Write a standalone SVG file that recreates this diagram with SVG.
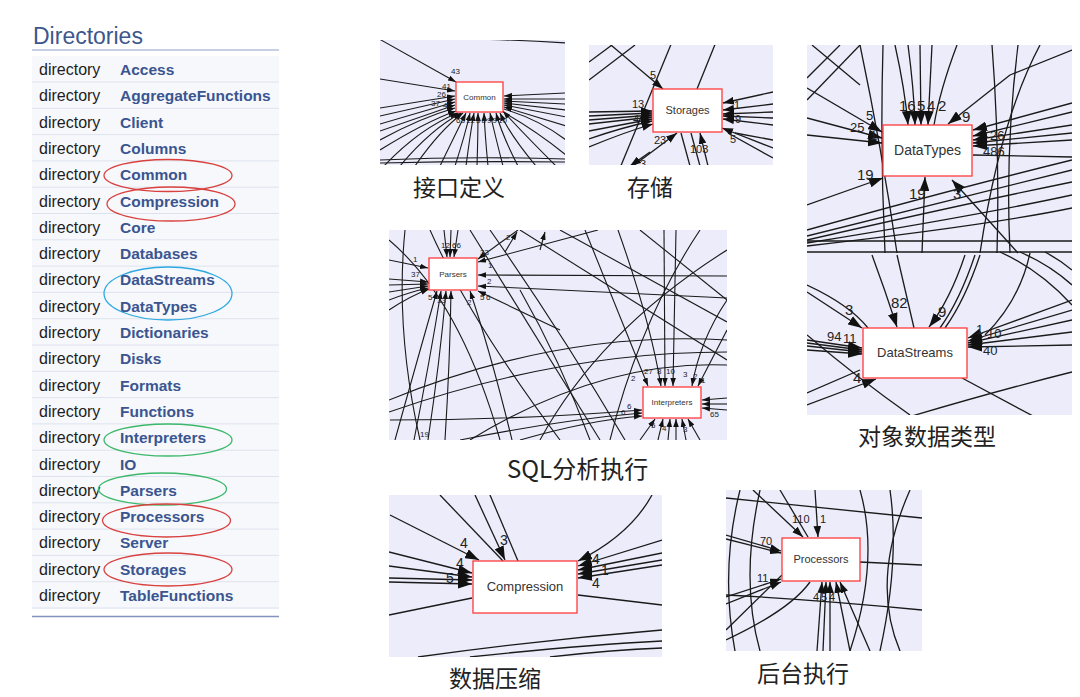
<svg xmlns="http://www.w3.org/2000/svg" width="1080" height="697" viewBox="0 0 1080 697">
<style>
.row{fill:#f7f8fb}
.sep{stroke:#dde3ee;stroke-width:1}
.dk{font-family:"Liberation Sans",Arial,sans-serif;font-size:16px;fill:#1d1d1d}
.nm{font-family:"Liberation Sans",Arial,sans-serif;font-size:15.5px;font-weight:bold;fill:#3a5590}
.ell{fill:none;stroke-width:1.3}
.bg{fill:#ececfb}
.e{fill:none;stroke:#1a1a1a;stroke-width:1.3}
.es{fill:none;stroke:#1a1a1a;stroke-width:1.1}
.nd{fill:#fff;stroke:#ff3b3b;stroke-width:1.3}
.nt{font-family:"Liberation Sans",Arial,sans-serif;fill:#333;text-anchor:middle}
.lb{font-family:"Liberation Sans",Arial,sans-serif;fill:#222}
.cap{font-family:"Noto Sans CJK SC","Liberation Sans",sans-serif;font-size:23px;fill:#222}
</style>
<defs>
<marker id="aS" viewBox="0 0 10 7" refX="10" refY="3.5" markerWidth="8" markerHeight="6" orient="auto" markerUnits="userSpaceOnUse"><path d="M0,0L10,3.5L0,7z" fill="#111"/></marker>
<marker id="aM" viewBox="0 0 10 7" refX="10" refY="3.5" markerWidth="11" markerHeight="8" orient="auto" markerUnits="userSpaceOnUse"><path d="M0,0L10,3.5L0,7z" fill="#111"/></marker>
<marker id="aL" viewBox="0 0 10 7" refX="10" refY="3.5" markerWidth="14" markerHeight="10" orient="auto" markerUnits="userSpaceOnUse"><path d="M0,0L10,3.5L0,7z" fill="#111"/></marker>
<clipPath id="c1"><rect x="380" y="40" width="185" height="125"/></clipPath>
<clipPath id="c2"><rect x="589" y="45" width="184" height="120"/></clipPath>
<clipPath id="c3"><rect x="807" y="45" width="265" height="370"/></clipPath>
<clipPath id="c4"><rect x="389" y="230" width="338" height="210"/></clipPath>
<clipPath id="c5"><rect x="389" y="495" width="273" height="162"/></clipPath>
<clipPath id="c6"><rect x="726" y="490" width="196" height="161"/></clipPath>
</defs>
<rect width="1080" height="697" fill="#fff"/>

<g id="directories">
<text x="33" y="44" font-family="Liberation Sans, Arial, sans-serif" font-size="23" fill="#3d578c">Directories</text>
<line x1="32" y1="50" x2="279" y2="50" stroke="#8fa2cc" stroke-width="1.2"/>
<rect class="row" x="32" y="56" width="247" height="553"/>
<g class="sep">
<line x1="32" y1="82" x2="279" y2="82"/><line x1="32" y1="108.3" x2="279" y2="108.3"/><line x1="32" y1="134.6" x2="279" y2="134.6"/><line x1="32" y1="160.9" x2="279" y2="160.9"/><line x1="32" y1="187.2" x2="279" y2="187.2"/><line x1="32" y1="213.5" x2="279" y2="213.5"/><line x1="32" y1="239.8" x2="279" y2="239.8"/><line x1="32" y1="266.1" x2="279" y2="266.1"/><line x1="32" y1="292.4" x2="279" y2="292.4"/><line x1="32" y1="318.7" x2="279" y2="318.7"/><line x1="32" y1="345" x2="279" y2="345"/><line x1="32" y1="371.3" x2="279" y2="371.3"/><line x1="32" y1="397.6" x2="279" y2="397.6"/><line x1="32" y1="423.9" x2="279" y2="423.9"/><line x1="32" y1="450.2" x2="279" y2="450.2"/><line x1="32" y1="476.5" x2="279" y2="476.5"/><line x1="32" y1="502.8" x2="279" y2="502.8"/><line x1="32" y1="529.1" x2="279" y2="529.1"/><line x1="32" y1="555.4" x2="279" y2="555.4"/><line x1="32" y1="581.7" x2="279" y2="581.7"/><line x1="32" y1="608" x2="279" y2="608"/>
</g>
<line x1="32" y1="616.5" x2="279" y2="616.5" stroke="#8393bb" stroke-width="1.5"/>
<g class="dk">
<text x="39" y="75">directory</text><text x="39" y="101.3">directory</text><text x="39" y="127.6">directory</text><text x="39" y="153.9">directory</text><text x="39" y="180.2">directory</text><text x="39" y="206.5">directory</text><text x="39" y="232.8">directory</text><text x="39" y="259.1">directory</text><text x="39" y="285.4">directory</text><text x="39" y="311.7">directory</text><text x="39" y="338">directory</text><text x="39" y="364.3">directory</text><text x="39" y="390.6">directory</text><text x="39" y="416.9">directory</text><text x="39" y="443.2">directory</text><text x="39" y="469.5">directory</text><text x="39" y="495.8">directory</text><text x="39" y="522.1">directory</text><text x="39" y="548.4">directory</text><text x="39" y="574.7">directory</text><text x="39" y="601">directory</text>
</g>
<g class="nm">
<text x="120" y="75">Access</text><text x="120" y="101.3">AggregateFunctions</text><text x="120" y="127.6">Client</text><text x="120" y="153.9">Columns</text><text x="120" y="180.2">Common</text><text x="120" y="206.5">Compression</text><text x="120" y="232.8">Core</text><text x="120" y="259.1">Databases</text><text x="120" y="285.4">DataStreams</text><text x="120" y="311.7">DataTypes</text><text x="120" y="338">Dictionaries</text><text x="120" y="364.3">Disks</text><text x="120" y="390.6">Formats</text><text x="120" y="416.9">Functions</text><text x="120" y="443.2">Interpreters</text><text x="120" y="469.5">IO</text><text x="120" y="495.8">Parsers</text><text x="120" y="522.1">Processors</text><text x="120" y="548.4">Server</text><text x="120" y="574.7">Storages</text><text x="120" y="601">TableFunctions</text>
</g>
<ellipse class="ell" cx="168" cy="175.5" rx="64" ry="16" stroke="#d9413f"/>
<ellipse class="ell" cx="171" cy="204" rx="64" ry="17" stroke="#d9413f"/>
<ellipse class="ell" cx="168" cy="293.5" rx="64" ry="26.5" stroke="#2ea8e0"/>
<ellipse class="ell" cx="168" cy="440" rx="64" ry="16" stroke="#3cb86a"/>
<ellipse class="ell" cx="162.5" cy="489" rx="64" ry="16" stroke="#3cb86a"/>
<ellipse class="ell" cx="166.5" cy="520.5" rx="64" ry="16.5" stroke="#d9413f"/>
<ellipse class="ell" cx="168" cy="569.5" rx="64" ry="16.5" stroke="#d9413f"/>
</g>

<!-- Panel 1: Common -->
<g id="panel-common" clip-path="url(#c1)">
<rect class="bg" x="380" y="40" width="185" height="125"/>
<g id="common-connectors" class="es">
<path d="M378,39 Q470,37 567,43"/>
<path d="M372,35 L456,82" marker-end="url(#aS)"/>
<path d="M380,79 L455,91" marker-end="url(#aS)"/>
<path d="M380,108 L455,96" marker-end="url(#aS)"/>
<path d="M380,116 L455,99" marker-end="url(#aS)"/>
<path d="M380,124 L455,102" marker-end="url(#aS)"/>
<path d="M380,131 L455,105" marker-end="url(#aS)"/>
<path d="M380,140 Q420,118 455,108" marker-end="url(#aS)"/>
<path d="M380,150 Q425,122 456,111" marker-end="url(#aS)"/>
<path d="M384,166 Q420,128 458,113" marker-end="url(#aS)"/>
<path d="M400,166 Q430,130 461,113" marker-end="url(#aS)"/>
<path d="M415,166 Q440,130 463,113" marker-end="url(#aS)"/>
<path d="M440,166 Q455,135 466,113" marker-end="url(#aS)"/>
<path d="M455,166 Q465,135 470,113" marker-end="url(#aS)"/>
<path d="M466,166 Q470,135 474,113" marker-end="url(#aS)"/>
<path d="M477,166 Q478,135 478,113" marker-end="url(#aS)"/>
<path d="M488,166 Q485,135 484,113" marker-end="url(#aS)"/>
<path d="M503,166 Q495,135 490,113" marker-end="url(#aS)"/>
<path d="M518,166 Q502,135 496,113" marker-end="url(#aS)"/>
<path d="M536,166 Q510,135 500,113" marker-end="url(#aS)"/>
<path d="M556,166 Q520,130 503,111" marker-end="url(#aS)"/>
<path d="M566,93 L504,96" marker-end="url(#aS)"/>
<path d="M566,99 L504,99" marker-end="url(#aS)"/>
<path d="M566,104 L504,101" marker-end="url(#aS)"/>
<path d="M566,110 L504,103" marker-end="url(#aS)"/>
<path d="M566,117 L504,105" marker-end="url(#aS)"/>
<path d="M566,126 L504,107" marker-end="url(#aS)"/>
<path d="M504,109 Q540,120 566,140"/>
<path d="M503,112 Q535,130 566,155"/>
<path d="M380,163 Q470,161 566,162"/>
<path d="M380,160 Q470,156 566,159"/>
</g>
<g id="node-common">
<rect class="nd" x="456" y="82" width="47" height="30"/>
<text class="nt" x="479.5" y="100" font-size="8">Common</text>
</g>
<g class="lb" font-size="8">
<text x="451" y="74">43</text><text x="442" y="89">41</text><text x="437" y="97">26</text><text x="431" y="106">37</text><text x="443" y="108">4</text>
<text x="456" y="123">63</text><text x="466" y="123">12</text><text x="476" y="123">5</text><text x="481.5" y="123">8</text><text x="487" y="123">9</text><text x="492.5" y="123">9</text><text x="498" y="123">10</text><text x="507" y="107">4</text>
</g>
</g>

<!-- Panel 2: Storages -->
<g id="panel-storages" clip-path="url(#c2)">
<rect class="bg" x="589" y="45" width="184" height="120"/>
<g id="storages-connectors" class="e">
<path d="M589,62 L612,45"/>
<path d="M589,80 L635,45"/>
<path d="M605,40 L663,89" marker-end="url(#aM)"/>
<path d="M672,42 L620,168"/>
<path d="M716,42 L697,89"/>
<path d="M589,112 L652,111" marker-end="url(#aM)"/>
<path d="M589,116 L652,113" marker-end="url(#aM)"/>
<path d="M589,120 L652,115" marker-end="url(#aM)"/>
<path d="M589,124 L652,117" marker-end="url(#aM)"/>
<path d="M589,131 Q620,125 652,119" marker-end="url(#aM)"/>
<path d="M589,139 Q620,128 652,121" marker-end="url(#aM)"/>
<path d="M589,147 Q625,132 653,124" marker-end="url(#aM)"/>
<path d="M773,92 L723,103" marker-end="url(#aM)"/>
<path d="M773,104 L723,110" marker-end="url(#aM)"/>
<path d="M773,112 L723,114" marker-end="url(#aM)"/>
<path d="M773,118 L723,116" marker-end="url(#aM)"/>
<path d="M773,125 L723,119" marker-end="url(#aM)"/>
<path d="M773,148 L722,128" marker-end="url(#aM)"/>
<path d="M773,158 L728,133"/>
<path d="M773,140 L735,133"/>
<path d="M633,166 L677,133" marker-end="url(#aM)"/>
<path d="M708,166 L700,133" marker-end="url(#aM)"/>
<path d="M691,133 L700,166"/>
<path d="M681,133 L690,166"/>
<path d="M650,152 L630,166" marker-end="url(#aM)"/>
</g>
<g id="node-storages">
<rect class="nd" x="653" y="89" width="69" height="43"/>
<text class="nt" x="687.5" y="114" font-size="11">Storages</text>
</g>
<g class="lb" font-size="11">
<text x="650" y="79">5</text><text x="632" y="108">13</text><text x="633" y="123">4</text>
<text x="734" y="109">1</text><text x="735" y="123">9</text><text x="730" y="143">5</text>
<text x="654" y="144">23</text><text x="690" y="153">103</text><text x="640" y="168">3</text>
</g>
</g>

<!-- Panel 3: DataTypes / DataStreams -->
<g id="panel-datatypes" clip-path="url(#c3)">
<rect class="bg" x="807" y="45" width="265" height="370"/>
<g id="datatypes-connectors" class="e">
<path d="M812,45 L860,85"/>
<path d="M807,100 L860,45"/>
<path d="M807,78 L840,45"/>
<path d="M860,45 Q882,150 897,253"/>
<path d="M883,45 Q880,150 885,253"/>
<path d="M992,45 Q1000,150 997,253"/>
<path d="M1018,45 Q1005,150 1010,253"/>
<path d="M1040,45 Q1000,120 980,253"/>
<path d="M895,45 Q905,90 908,125" marker-end="url(#aL)"/>
<path d="M908,45 Q914,90 915,125" marker-end="url(#aL)"/>
<path d="M920,45 L921,125" marker-end="url(#aL)"/>
<path d="M932,45 L928,125" marker-end="url(#aL)"/>
<path d="M957,45 Q940,90 934,125"/>
<path d="M1010,75 L948,124" marker-end="url(#aL)"/>
<path d="M1072,50 L1010,75"/>
<path d="M807,88 L882,132" marker-end="url(#aL)"/>
<path d="M807,118 L882,138" marker-end="url(#aL)"/>
<path d="M807,135 L882,143" marker-end="url(#aL)"/>
<path d="M807,205 L883,178" marker-end="url(#aL)"/>
<path d="M922,253 L925,177" marker-end="url(#aL)"/>
<path d="M1018,253 L952,180" marker-end="url(#aL)"/>
<path d="M1072,103 L973,130" marker-end="url(#aL)"/>
<path d="M1072,112 L973,136" marker-end="url(#aL)"/>
<path d="M1072,125 L973,140" marker-end="url(#aL)"/>
<path d="M1072,133 L973,143" marker-end="url(#aL)"/>
<path d="M1072,140 L973,146" marker-end="url(#aL)"/>
<path d="M973,155 L1072,157"/>
<path d="M807,230 Q950,190 1072,160"/>
<path d="M807,236 Q950,200 1072,170"/>
<path d="M807,240 Q960,205 1072,182"/>
<path d="M807,243 Q980,215 1072,195"/>
<path d="M807,246 Q990,225 1072,208"/>
<path d="M807,241 L1072,241"/>
<path d="M807,252 L1072,252"/>
<path d="M807,285 Q850,305 868,328"/>
<path d="M807,292 L862,328" marker-end="url(#aL)"/>
<path d="M872,255 Q885,290 897,327" marker-end="url(#aL)"/>
<path d="M897,255 L914,328"/>
<path d="M965,255 Q950,300 929,327" marker-end="url(#aL)"/>
<path d="M975,255 Q960,300 940,328"/>
<path d="M980,255 Q965,300 945,328"/>
<path d="M807,340 L862,348" marker-end="url(#aL)"/>
<path d="M807,343 L862,350" marker-end="url(#aL)"/>
<path d="M807,346 L862,352" marker-end="url(#aL)"/>
<path d="M807,350 L862,354" marker-end="url(#aL)"/>
<path d="M807,405 L876,379" marker-end="url(#aL)"/>
<path d="M807,393 L860,370"/>
<path d="M807,335 Q860,380 910,415"/>
<path d="M1072,300 L968,338" marker-end="url(#aL)"/>
<path d="M1072,310 L968,341" marker-end="url(#aL)"/>
<path d="M1072,320 L968,343" marker-end="url(#aL)"/>
<path d="M1072,332 L968,345" marker-end="url(#aL)"/>
<path d="M1072,345 L968,347" marker-end="url(#aL)"/>
<path d="M962,378 L1033,416"/>
<path d="M912,416 Q1000,390 1072,372"/>
<path d="M1000,252 Q1040,270 1072,305"/>
<path d="M1020,252 Q1050,265 1072,285"/>
<path d="M1045,252 Q1060,260 1072,270"/>
<path d="M1030,253 Q1020,300 985,335"/>
</g>
<g id="node-datatypes">
<rect class="nd" x="883" y="125" width="89" height="51"/>
<text class="nt" x="927.5" y="155" font-size="14">DataTypes</text>
</g>
<g id="node-datastreams">
<rect class="nd" x="863" y="328" width="104" height="50"/>
<text class="nt" x="915" y="357" font-size="13">DataStreams</text>
</g>
<g class="lb" font-size="15">
<text x="899" y="111">16</text><text x="917" y="111">5</text><text x="927" y="111">4</text><text x="938" y="111">2</text>
<text x="962" y="122">9</text>
<text x="857" y="180">19</text><text x="909" y="199">19</text><text x="953" y="199">3</text>
<text x="845" y="315">3</text><text x="891" y="308">82</text><text x="938" y="317">9</text>
<text x="853" y="383">4</text>
</g>
<g class="lb" font-size="13">
<text x="866" y="120">5</text><text x="850" y="132">25</text><text x="870" y="140">1</text>
<text x="990" y="140">26</text><text x="983" y="156">486</text>
<text x="827" y="341">94</text><text x="843" y="343">11</text>
<text x="976" y="334">1</text><text x="987" y="338">10</text><text x="983" y="355">40</text>
</g>
</g>

<!-- Panel 4: Parsers / Interpreters -->
<g id="panel-sql" clip-path="url(#c4)">
<rect class="bg" x="389" y="230" width="338" height="210"/>
<g id="sql-connectors" class="es">
<path d="M389,240 Q460,300 500,440"/>
<path d="M405,230 Q395,330 420,440"/>
<path d="M470,230 L600,440"/>
<path d="M490,230 Q560,330 625,440"/>
<path d="M520,230 L727,360"/>
<path d="M560,230 L727,322"/>
<path d="M640,230 L727,300"/>
<path d="M430,230 Q470,320 560,440"/>
<path d="M520,290 Q560,360 590,440"/>
<path d="M700,230 Q640,320 610,440"/>
<path d="M727,250 Q600,330 540,440"/>
<path d="M389,400 Q560,330 727,340"/>
<path d="M389,412 Q560,352 727,352"/>
<path d="M470,440 Q600,360 727,365"/>
<path d="M444,230 L447,257" marker-end="url(#aS)"/>
<path d="M451,230 L450,257" marker-end="url(#aS)"/>
<path d="M458,230 L454,257" marker-end="url(#aS)"/>
<path d="M518,230 L478,259" marker-end="url(#aS)"/>
<path d="M598,230 L478,262" marker-end="url(#aS)"/>
<path d="M727,276 L478,275" marker-end="url(#aS)"/>
<path d="M727,298 L478,286" marker-end="url(#aS)"/>
<path d="M505,252 L517,232" marker-end="url(#aS)"/>
<path d="M540,250 L545,232" marker-end="url(#aS)"/>
<path d="M389,260 L428,268" marker-end="url(#aS)"/>
<path d="M389,279 L428,282" marker-end="url(#aS)"/>
<path d="M389,285 L428,284" marker-end="url(#aS)"/>
<path d="M389,292 L428,286" marker-end="url(#aS)"/>
<path d="M389,300 Q410,292 428,288" marker-end="url(#aS)"/>
<path d="M389,310 Q410,296 429,289" marker-end="url(#aS)"/>
<path d="M395,440 Q420,350 437,291" marker-end="url(#aS)"/>
<path d="M414,440 Q430,360 441,291" marker-end="url(#aS)"/>
<path d="M428,440 Q440,360 446,291" marker-end="url(#aS)"/>
<path d="M445,440 Q450,360 451,291" marker-end="url(#aS)"/>
<path d="M512,440 Q490,350 470,291" marker-end="url(#aS)"/>
<path d="M560,330 L478,291" marker-end="url(#aS)"/>
<path d="M585,230 L648,386" marker-end="url(#aS)"/>
<path d="M618,230 Q650,320 661,386" marker-end="url(#aS)"/>
<path d="M664,230 L665,386" marker-end="url(#aS)"/>
<path d="M676,230 L673,386" marker-end="url(#aS)"/>
<path d="M727,300 Q700,340 692,386" marker-end="url(#aS)"/>
<path d="M727,330 L698,386" marker-end="url(#aS)"/>
<path d="M390,420 Q520,420 642,410" marker-end="url(#aS)"/>
<path d="M460,440 Q560,420 642,413" marker-end="url(#aS)"/>
<path d="M520,440 Q590,420 642,416" marker-end="url(#aS)"/>
<path d="M640,440 L655,419" marker-end="url(#aS)"/>
<path d="M658,440 L663,419" marker-end="url(#aS)"/>
<path d="M668,440 L670,419" marker-end="url(#aS)"/>
<path d="M676,440 L676,419" marker-end="url(#aS)"/>
<path d="M686,440 L682,419" marker-end="url(#aS)"/>
<path d="M700,440 L688,419" marker-end="url(#aS)"/>
<path d="M727,398 L702,400" marker-end="url(#aS)"/>
<path d="M727,404 L702,404" marker-end="url(#aS)"/>
<path d="M727,410 L702,408" marker-end="url(#aS)"/>
</g>
<g id="node-parsers">
<rect class="nd" x="429" y="258" width="48" height="32"/>
<text class="nt" x="453" y="277" font-size="8">Parsers</text>
</g>
<g id="node-interpreters">
<rect class="nd" x="643" y="387" width="58" height="31"/>
<text class="nt" x="672" y="405" font-size="8">Interpreters</text>
</g>
<g class="lb" font-size="8">
<text x="441" y="248">12</text><text x="452" y="248">66</text><text x="480" y="255">33</text><text x="488" y="268">1</text><text x="487" y="284">2</text>
<text x="506" y="240">2</text><text x="413" y="262">1</text><text x="411" y="277">37</text><text x="421" y="285">4</text>
<text x="428" y="300">5</text><text x="437" y="303">33</text><text x="467" y="305">2</text><text x="480" y="300">5</text><text x="486" y="300">6</text>
<text x="420" y="437">19</text>
<text x="631" y="381">2</text><text x="644" y="374">27</text><text x="657" y="374">8</text><text x="666" y="374">10</text><text x="683" y="377">3</text><text x="693" y="379">2</text><text x="701" y="383">1</text>
<text x="627" y="409">6</text><text x="621" y="415">6</text><text x="651" y="428">5</text><text x="662" y="431">4</text><text x="683" y="432">3</text><text x="710" y="417">65</text>
</g>
</g>

<!-- Panel 5: Compression -->
<g id="panel-compression" clip-path="url(#c5)">
<rect class="bg" x="389" y="495" width="273" height="162"/>
<g id="compression-connectors" class="e">
<path d="M390,515 L479,560" marker-end="url(#aL)"/>
<path d="M440,495 L503,561"/>
<path d="M475,495 L505,560" marker-end="url(#aL)"/>
<path d="M490,495 L518,561"/>
<path d="M389,552 L472,573" marker-end="url(#aL)"/>
<path d="M389,566 L472,577" marker-end="url(#aL)"/>
<path d="M389,578 L472,580" marker-end="url(#aL)"/>
<path d="M389,582 L472,584" marker-end="url(#aL)"/>
<path d="M389,615 L472,598"/>
<path d="M652,495 Q630,535 578,561" marker-end="url(#aL)"/>
<path d="M662,540 L578,566" marker-end="url(#aL)"/>
<path d="M662,553 L578,570" marker-end="url(#aL)"/>
<path d="M662,560 L578,574" marker-end="url(#aL)"/>
<path d="M662,565 L578,578" marker-end="url(#aL)"/>
<path d="M578,595 L662,605"/>
<path d="M418,657 Q540,640 662,630"/>
<path d="M470,657 Q580,645 662,641"/>
<path d="M550,657 Q610,650 662,648"/>
</g>
<g id="node-compression">
<rect class="nd" x="473" y="561" width="104" height="52"/>
<text class="nt" x="525" y="591" font-size="13">Compression</text>
</g>
<g class="lb" font-size="14">
<text x="460" y="548">4</text><text x="500" y="545">3</text><text x="456" y="568">4</text><text x="446" y="583">5</text>
<text x="592" y="564">4</text><text x="601" y="575">1</text><text x="592" y="588">4</text>
</g>
</g>

<!-- Panel 6: Processors -->
<g id="panel-processors" clip-path="url(#c6)">
<rect class="bg" x="726" y="490" width="196" height="161"/>
<g id="processors-connectors" class="e">
<path d="M726,498 L922,518"/>
<path d="M740,490 Q720,570 735,651"/>
<path d="M760,490 Q740,580 760,651"/>
<path d="M860,490 Q880,560 850,651"/>
<path d="M890,490 Q900,560 880,651"/>
<path d="M910,490 Q870,580 900,651"/>
<path d="M726,595 Q820,600 922,610"/>
<path d="M782,575 L726,630"/>
<path d="M726,640 Q790,610 810,582"/>
<path d="M860,562 L922,565"/>
<path d="M753,490 L803,537" marker-end="url(#aM)"/>
<path d="M780,490 L808,537"/>
<path d="M815,490 L818,537" marker-end="url(#aM)"/>
<path d="M726,535 L781,551" marker-end="url(#aM)"/>
<path d="M726,539 L781,553" marker-end="url(#aM)"/>
<path d="M726,597 L781,579" marker-end="url(#aM)"/>
<path d="M726,604 L781,582" marker-end="url(#aM)"/>
<path d="M817,651 L822,582" marker-end="url(#aM)"/>
<path d="M823,651 L826,582" marker-end="url(#aM)"/>
<path d="M830,651 L830,582" marker-end="url(#aM)"/>
<path d="M850,651 L836,582" marker-end="url(#aM)"/>
<path d="M870,651 L840,582" marker-end="url(#aM)"/>
</g>
<g id="node-processors">
<rect class="nd" x="782" y="538" width="78" height="43"/>
<text class="nt" x="821" y="563" font-size="11">Processors</text>
</g>
<g class="lb" font-size="11">
<text x="792" y="523">110</text><text x="820" y="523">1</text><text x="760" y="545">70</text><text x="757" y="582">11</text>
<text x="813" y="601">4</text><text x="821" y="601">5</text><text x="829" y="601">4</text>
</g>
</g>

<g id="captions" class="cap">
<text x="413" y="196">接口定义</text>
<text x="627" y="196">存储</text>
<text x="507" y="478" font-size="24">SQL分析执行</text>
<text x="858" y="445">对象数据类型</text>
<text x="449" y="687">数据压缩</text>
<text x="757" y="682">后台执行</text>
</g>
</svg>
